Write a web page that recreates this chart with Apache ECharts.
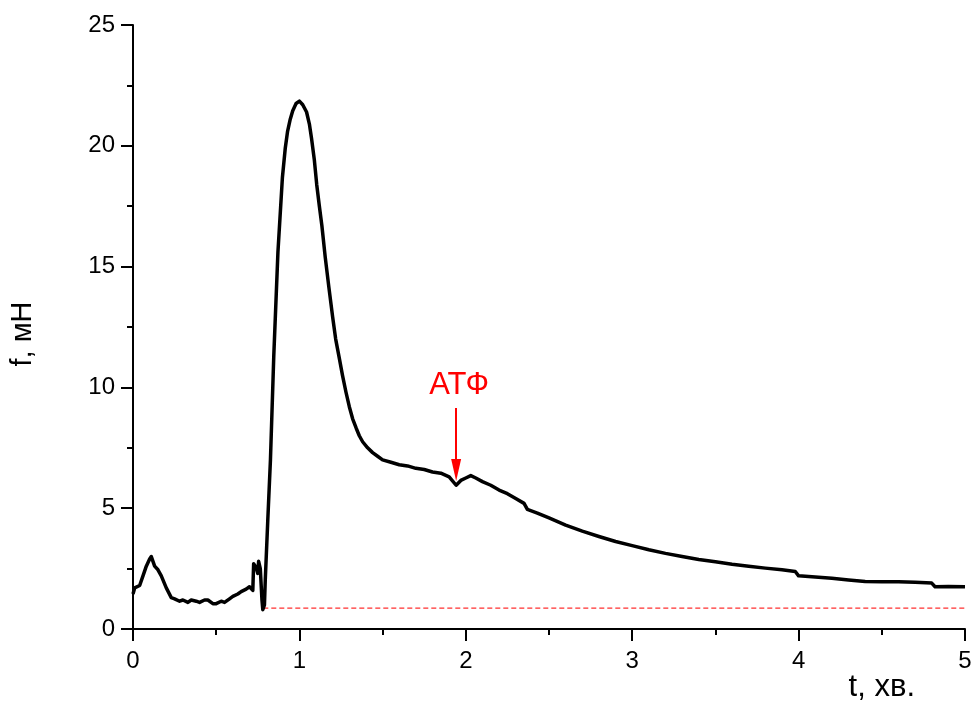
<!DOCTYPE html>
<html>
<head>
<meta charset="utf-8">
<script src="https://cdn.jsdelivr.net/npm/echarts@6/dist/echarts.min.js"></script>
<style>
html,body{margin:0;padding:0;background:#fff;}
#chart{width:975px;height:704px;}
</style>
</head>
<body>
<div id="chart"></div>
<script>
// time, min
var tValues = [0.00,0.01,0.02,0.04,0.06,0.08,0.10,0.11,0.12,0.13,0.15,0.17,0.20,0.23,0.25,0.28,0.30,0.33,0.35,0.38,0.40,0.43,0.45,0.48,0.50,0.53,0.55,0.58,0.60,0.63,0.65,0.68,0.70,0.72,0.725,0.74,0.75,0.755,0.765,0.775,0.78,0.79,0.795,0.81,0.826,0.846,0.871,0.898,0.915,0.929,0.945,0.96,0.98,1.00,1.02,1.043,1.06,1.073,1.09,1.104,1.12,1.135,1.155,1.177,1.20,1.218,1.24,1.259,1.28,1.30,1.32,1.342,1.36,1.38,1.41,1.44,1.47,1.50,1.55,1.60,1.65,1.70,1.75,1.80,1.85,1.90,1.942,1.97,2.00,2.03,2.06,2.10,2.15,2.20,2.25,2.30,2.35,2.37,2.43,2.50,2.60,2.70,2.80,2.90,3.00,3.10,3.20,3.30,3.40,3.50,3.60,3.70,3.80,3.90,3.98,4.00,4.10,4.20,4.30,4.40,4.50,4.60,4.70,4.80,4.82,4.90,5.00];
// force, mN
var fValues = [1.45,1.7,1.65,1.8,2.2,2.6,2.9,3.0,2.8,2.6,2.45,2.2,1.7,1.3,1.25,1.15,1.2,1.1,1.2,1.15,1.1,1.2,1.2,1.05,1.05,1.15,1.1,1.25,1.35,1.45,1.55,1.65,1.75,1.6,2.7,2.55,2.3,2.8,2.5,1.2,0.8,1.0,2.05,4.5,7.0,11.3,15.6,18.7,19.9,20.6,21.1,21.45,21.75,21.85,21.7,21.4,20.9,20.3,19.4,18.4,17.5,16.7,15.4,14.15,12.9,12.0,11.2,10.5,9.8,9.2,8.7,8.3,8.0,7.75,7.5,7.3,7.15,7.0,6.9,6.8,6.75,6.65,6.6,6.5,6.45,6.3,5.95,6.15,6.25,6.35,6.25,6.1,5.95,5.75,5.6,5.4,5.2,4.95,4.8,4.6,4.3,4.05,3.83,3.62,3.45,3.28,3.13,3.0,2.88,2.78,2.68,2.6,2.52,2.45,2.38,2.2,2.15,2.1,2.03,1.97,1.96,1.96,1.93,1.9,1.75,1.76,1.75];
// baseline (red dashed)
var baselineT = [0.783, 5.0];
var baselineF = [0.86, 0.86];
// ATP annotation
var atpLabel = 'АТФ';
var atpT = 1.942;
var atpArrowFrom = 9.15;
var atpArrowTo = 6.58;
var atpTextF = 10.1;
var atpTextT = 1.96;

var xTicks = [0,1,2,3,4,5];
var yTicks = [0,5,10,15,20,25];

var curve = tValues.map(function(t,i){return [t, fValues[i]];});
var base = baselineT.map(function(t,i){return [t, baselineF[i]];});

var font = "'Liberation Sans', Arial, sans-serif";
var chart = echarts.init(document.getElementById('chart'), null, {renderer:'canvas'});
chart.setOption({
  animation:false,
  backgroundColor:'#fff',
  grid:{left:131,right:10,top:25,bottom:75},
  xAxis:{
    type:'value', min:xTicks[0], max:xTicks[xTicks.length-1], interval:1,
    name:'t, хв.', nameLocation:'end', nameGap:-50,
    nameTextStyle:{fontFamily:font,fontSize:31,color:'#000',align:'right',verticalAlign:'top',padding:[43,0,0,0]},
    axisLine:{show:true,onZero:false,lineStyle:{color:'#000',width:2}},
    axisTick:{show:true,inside:false,length:12,lineStyle:{color:'#000',width:2}},
    minorTick:{show:true,splitNumber:2,length:6,lineStyle:{color:'#000',width:2}},
    splitLine:{show:false},
    axisLabel:{fontFamily:font,fontSize:24,color:'#000',margin:20}
  },
  yAxis:{
    type:'value', min:yTicks[0], max:yTicks[yTicks.length-1], interval:5,
    name:'f, мН', nameLocation:'middle', nameGap:96, nameRotate:90,
    nameTextStyle:{fontFamily:font,fontSize:29,color:'#000',padding:[0,0,0,-14]},
    axisLine:{show:true,onZero:false,lineStyle:{color:'#000',width:2}},
    axisTick:{show:true,inside:false,length:12,lineStyle:{color:'#000',width:2}},
    minorTick:{show:true,splitNumber:2,length:6,lineStyle:{color:'#000',width:2}},
    splitLine:{show:false},
    axisLabel:{fontFamily:font,fontSize:24,color:'#000',margin:18}
  },
  series:[
    {
      type:'line', data:base, symbol:'none', silent:true,
      lineStyle:{color:'#ff3030',width:1.2,type:[5,3]}, z:1
    },
    {
      type:'line', data:curve, symbol:'none', silent:true,
      lineStyle:{color:'#000',width:3.5,join:'round'}, z:2,
      markLine:{
        silent:true, symbol:['none','triangle'], symbolSize:[10,22],
        lineStyle:{color:'#ff0000',width:2,type:'solid'},
        label:{show:false},
        data:[[{coord:[atpT,atpArrowFrom]},{coord:[atpT,atpArrowTo]}]]
      },
      markPoint:{
        silent:true, symbol:'circle', symbolSize:0,
        label:{show:true,formatter:atpLabel,color:'#ff0000',fontFamily:font,fontSize:31,position:'inside'},
        data:[{coord:[atpTextT,atpTextF]}]
      }
    }
  ]
});
</script>
</body>
</html>
